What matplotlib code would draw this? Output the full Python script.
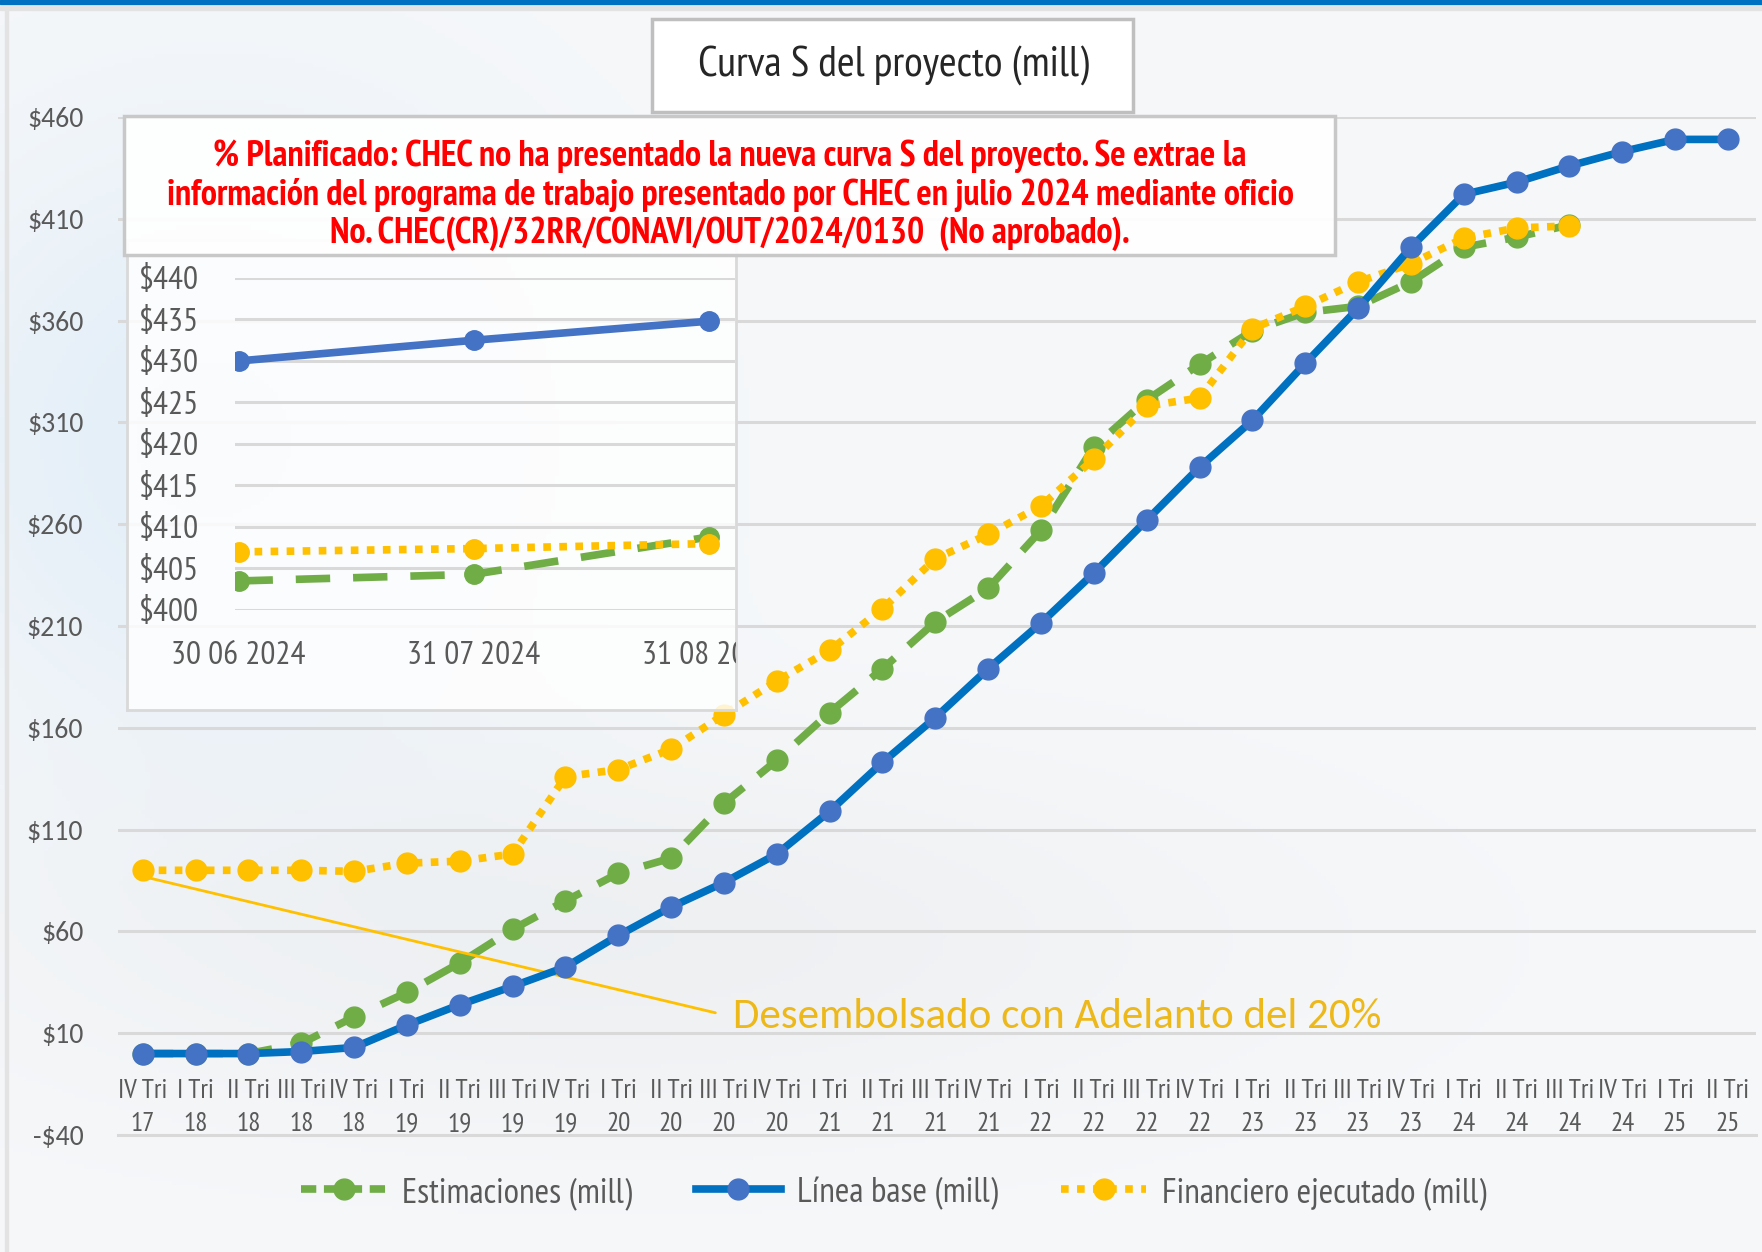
import numpy as np
import matplotlib
matplotlib.use('Agg')
import matplotlib.pyplot as plt
from matplotlib import font_manager
from matplotlib.lines import Line2D
from matplotlib.patches import Rectangle
from matplotlib.transforms import Bbox, TransformedBbox

# Datos (millones)
trimestres = ['IV Tri\n17', 'I Tri\n18', 'II Tri\n18', 'III Tri\n18', 'IV Tri\n18',
              'I Tri\n19', 'II Tri\n19', 'III Tri\n19', 'IV Tri\n19',
              'I Tri\n20', 'II Tri\n20', 'III Tri\n20', 'IV Tri\n20',
              'I Tri\n21', 'II Tri\n21', 'III Tri\n21', 'IV Tri\n21',
              'I Tri\n22', 'II Tri\n22', 'III Tri\n22', 'IV Tri\n22',
              'I Tri\n23', 'II Tri\n23', 'III Tri\n23', 'IV Tri\n23',
              'I Tri\n24', 'II Tri\n24', 'III Tri\n24', 'IV Tri\n24',
              'I Tri\n25', 'II Tri\n25']

linea_base = [0, 0, 0, 1, 3, 14, 24, 33, 42.5, 58, 72, 84, 98, 119, 143, 165,
              189, 211.5, 236, 262, 288, 311, 339, 366, 396, 422, 428, 436, 443,
              449, 449]

estimaciones = [0, 0, 0, 5, 18, 30, 44.5, 61, 75, 88.5, 96, 123, 144, 167.5,
                189, 212, 228.5, 257, 298, 321, 338.5, 355, 364, 367, 379, 396,
                401, 407]

financiero = [90, 90, 90, 90, 89.5, 93.5, 94.5, 98, 136, 139.5, 149.5, 166.5,
              183, 198, 218.5, 243, 255, 269, 292, 318, 322, 356, 367, 379, 388,
              400.5, 405.5, 406.5]

# Zoom (recuadro)
fechas_inset = ['30 06 2024', '31 07 2024', '31 08 2024']
inset_base = [430, 432.5, 434.8]
inset_estim = [403.5, 404.3, 408.8]
inset_fin = [407.0, 407.4, 408.0]

# Colores
VERDE = '#70AD47'
AZUL = '#0070C0'
AZUL_MK = '#4472C4'
AMARILLO = '#FFC000'
GRIS = '#595959'
GRID = '#D9D9D9'

# Fuentes
names = {f.name for f in font_manager.fontManager.ttflist}


def primera(opciones, defecto):
    for o in opciones:
        if o in names:
            return o
    return defecto


NARROW = primera(['Liberation Sans Narrow', 'PT Sans Narrow', 'Arial Narrow',
                  'IBM Plex Sans Condensed'], 'Liberation Sans')
REGULAR = primera(['Carlito', 'Liberation Sans'], 'DejaVu Sans')

W, H = 1762, 1252


def fx(px):
    return px / W


def fy(py):
    return 1 - py / H


fig = plt.figure(figsize=(W / 100, H / 100), dpi=100)

# Fondo suave
bg = fig.add_axes([0, 0, 1, 1], zorder=-10)
yy, xx = np.mgrid[0:1:300j, 0:1:400j]
w_azul = 0.45 * np.exp(-((xx - 0.12) / 0.18) ** 2 - ((yy - 0.35) / 0.25) ** 2)
w_gris = 0.25 * np.exp(-((yy - 0.75) / 0.15) ** 2) * np.exp(-((xx - 0.35) / 0.35) ** 2)
base = np.array([0.965, 0.972, 0.98])
azul = np.array([0.80, 0.89, 0.96])
gris = np.array([0.84, 0.85, 0.86])
img = (base * (1 - w_azul[..., None] - w_gris[..., None])
       + azul * w_azul[..., None] + gris * w_gris[..., None])
bg.imshow(img, aspect='auto', extent=[0, 1, 0, 1], origin='upper')
bg.axis('off')

# Barra superior
fig.add_artist(Rectangle((0, fy(4)), 1, 4 / H, transform=fig.transFigure,
                         color=AZUL, zorder=1))
fig.add_artist(Rectangle((0, fy(10)), 1, 4 / H, transform=fig.transFigure,
                         color='#E3E3E3', zorder=1))
fig.add_artist(Rectangle((fx(5), 0), 3 / W, fy(10), transform=fig.transFigure,
                         color='#E3E3E3', zorder=1))

# ============================================
# GRAFICO PRINCIPAL
# ============================================
ax = fig.add_axes([fx(118), fy(1135), fx(1756 - 118), (1135 - 117) / H])
ax.set_facecolor('none')

x = np.arange(len(trimestres))
ax.plot(x[:len(estimaciones)], estimaciones, color=VERDE, lw=5.5, dashes=(4, 2.5),
        marker='o', ms=15, mfc=VERDE, mec=VERDE, zorder=3)
ax.plot(x[:len(financiero)], financiero, color=AMARILLO, lw=5.5, dashes=(1, 1.1),
        marker='o', ms=15, mfc=AMARILLO, mec=AMARILLO, zorder=4)
ax.plot(x, linea_base, color=AZUL, lw=5.5, marker='o', ms=15,
        mfc=AZUL_MK, mec=AZUL_MK, zorder=5)

ax.set_xlim(-0.467, 30.53)
ax.set_ylim(-40, 460)
yt = np.arange(-40, 461, 50)
ax.set_yticks(yt)
ax.set_yticklabels([f'${v}' if v >= 0 else f'-${-v}' for v in yt],
                   fontsize=20, color=GRIS, family=REGULAR)
ax.set_xticks(x)
ax.set_xticklabels(trimestres, fontsize=19.5, color=GRIS, family=NARROW,
                   linespacing=1.45)
ax.tick_params(axis='x', length=0, pad=-40)
ax.tick_params(axis='y', length=0, pad=25)
ax.grid(axis='y', color=GRID, lw=2.2)
ax.set_axisbelow(True)
for s in ['top', 'right', 'left']:
    ax.spines[s].set_visible(False)
ax.spines['bottom'].set_color(GRID)
ax.spines['bottom'].set_linewidth(2.2)

ax.annotate('Desembolsado con Adelanto del 20%', xy=(0, 87),
            xytext=(fx(733), fy(1017)), textcoords='figure fraction',
            ha='left', va='center', fontsize=31, color='#EDB81A',
            family=REGULAR,
            arrowprops=dict(arrowstyle='-', color=AMARILLO, lw=2,
                            shrinkA=11, shrinkB=0, relpos=(0, 0.5)))

# ============================================
# RECUADRO (ZOOM)
# ============================================
ax_frame = fig.add_axes([fx(127), fy(710), fx(736 - 127), (710 - 240) / H], zorder=2)
ax_frame.set_facecolor((1, 1, 1, 0.82))
ax_frame.set_xticks([])
ax_frame.set_yticks([])
for s in ax_frame.spines.values():
    s.set_color(GRID)
    s.set_linewidth(2)

ax_in = fig.add_axes([fx(235), fy(610), fx(735 - 235), (610 - 278) / H], zorder=3)
ax_in.set_facecolor('none')
xi = np.arange(len(fechas_inset))
ax_in.plot(xi, inset_estim, color=VERDE, lw=5.5, dashes=(4.5, 3), marker='o',
           ms=14, mfc=VERDE, mec=VERDE, zorder=3)
ax_in.plot(xi, inset_fin, color=AMARILLO, lw=5.5, dashes=(1, 1.1), marker='o',
           ms=14, mfc=AMARILLO, mec=AMARILLO, zorder=4)
ax_in.plot(xi, inset_base, color=AZUL_MK, lw=5.5, marker='o', ms=14,
           mfc=AZUL_MK, mec=AZUL_MK, zorder=5)
ax_in.set_xlim(-0.015, 2.11)
ax_in.set_ylim(400, 440)
yi = np.arange(400, 441, 5)
ax_in.set_yticks(yi)
ax_in.set_yticklabels([f'${v}' for v in yi], fontsize=24, color=GRIS,
                      family=NARROW)
ax_in.set_xticks(xi)
ax_in.set_xticklabels(fechas_inset, fontsize=24, color=GRIS, family=NARROW)
ax_in.tick_params(axis='y', length=0, pad=26)
ax_in.tick_params(axis='x', length=0, pad=22)
ax_in.grid(axis='y', color=GRID, lw=2.2)
ax_in.set_axisbelow(True)
for s in ax_in.spines.values():
    s.set_visible(False)
clip = TransformedBbox(Bbox.from_extents(fx(127), fy(710), fx(736), fy(240)),
                       fig.transFigure)
for lbl in ax_in.get_xticklabels():
    lbl.set_clip_box(clip)
    lbl.set_clip_on(True)

# ============================================
# CAJAS DE TEXTO
# ============================================
fig.add_artist(Rectangle((fx(124), fy(255)), fx(1335 - 124), (255 - 116) / H,
                         transform=fig.transFigure, facecolor=(1, 1, 1, 0.93),
                         edgecolor='#C8C8C8', lw=2.5, zorder=6))
nota = ('% Planificado: CHEC no ha presentado la nueva curva S del proyecto. Se extrae la\n'
        'información del programa de trabajo presentado por CHEC en julio 2024 mediante oficio\n'
        'No. CHEC(CR)/32RR/CONAVI/OUT/2024/0130  (No aprobado).')
fig.text(fx(730), fy(195), nota, ha='center', va='center', fontsize=26,
         color='#FF0000', fontweight='bold', family=NARROW, linespacing=1.17,
         zorder=7)

fig.add_artist(Rectangle((fx(652), fy(112)), fx(1133 - 652), (112 - 19) / H,
                         transform=fig.transFigure, facecolor='white',
                         edgecolor='#BFBFBF', lw=2.5, zorder=6))
fig.text(fx(893), fy(66), 'Curva S del proyecto (mill)', ha='center', va='center',
         fontsize=31, color='#262626', family=NARROW, zorder=7)

# Leyenda
handles = [
    Line2D([], [], color=VERDE, lw=5.5, dashes=(2, 1), marker='o', ms=15,
           mfc=VERDE, mec=VERDE),
    Line2D([], [], color=AZUL, lw=5.5, marker='o', ms=15, mfc=AZUL_MK, mec=AZUL_MK),
    Line2D([], [], color=AMARILLO, lw=5.5, dashes=(1, 1.1), marker='o', ms=15,
           mfc=AMARILLO, mec=AMARILLO),
]
leg = fig.legend(handles, ['Estimaciones (mill)', 'Línea base (mill)',
                           'Financiero ejecutado (mill)'],
                 loc='center', bbox_to_anchor=(fx(894), fy(1193)), ncol=3,
                 frameon=False, handlelength=2.4, handletextpad=0.45,
                 columnspacing=1.8, numpoints=1,
                 prop={'family': NARROW, 'size': 25.5})
for t in leg.get_texts():
    t.set_color(GRIS)
leg.set_zorder(8)

plt.savefig('out.png', dpi=100)
